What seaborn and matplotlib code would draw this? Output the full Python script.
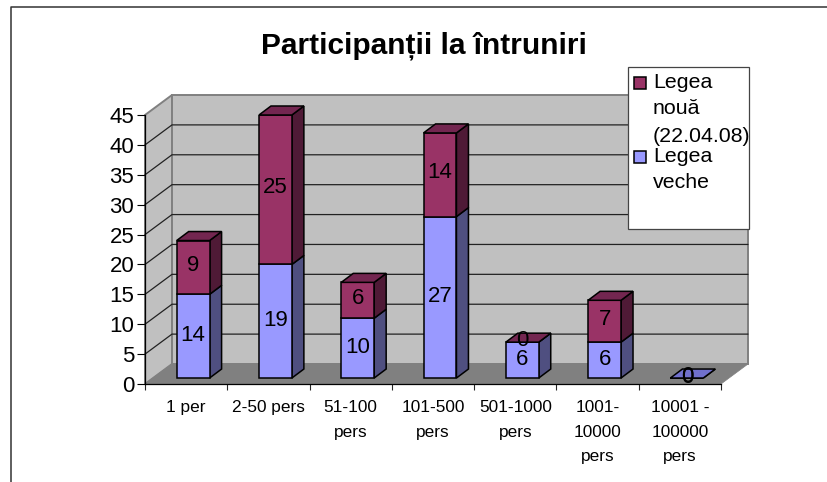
import pandas as pd
import matplotlib
matplotlib.use("Agg")
import matplotlib.pyplot as plt
from matplotlib.patches import Polygon, Rectangle
import seaborn as sns

categories = ["1 per", "2-50 pers", "51-100\npers", "101-500\npers", "501-1000\npers",
              "1001-\n10000\npers", "10001 -\n100000\npers"]
legea_veche = [14, 19, 10, 27, 6, 6, 0]
legea_noua = [9, 25, 6, 14, 0, 7, 0]
y_ticks = [0, 5, 10, 15, 20, 25, 30, 35, 40, 45]

sns.set_theme(style="white")
plt.rcParams['font.family'] = ['Liberation Sans', 'DejaVu Sans']

W, H = 827, 482
fig = plt.figure(figsize=(W / 100, H / 100), dpi=100, facecolor="white")

# front plane of the fake 3d box, in pixels
ax = fig.add_axes([145 / W, 1 - 384 / H, 576 / W, 269 / H])
ax.patch.set_visible(False)

idx = list(range(len(categories)))
df = pd.DataFrame({"pos": [i + 0.085 for i in idx], "veche": legea_veche, "noua": legea_noua})

floor = 1.0
bottoms = [floor + v for v in legea_veche]
sns.barplot(data=df, x="pos", y="veche", native_scale=True, width=0.4, color="#9999ff", saturation=1,
            edgecolor="black", linewidth=1.1, bottom=floor, zorder=3, ax=ax)
n_old = len(ax.patches)
sns.barplot(data=df, x="pos", y="noua", native_scale=True, width=0.4, color="#993366", saturation=1,
            edgecolor="black", linewidth=1.1, bottom=bottoms, zorder=3, ax=ax)

x0, x1, y1 = -0.5, 6.5, 45
ax.set_xlim(x0, x1)
ax.set_ylim(0, y1)

# depth of the walls and of the bars, in data units
dx, dy = 27 / 82.3, 20 / 5.98
bx, by = 12 / 82.3, 9 / 5.98

ax.add_patch(Polygon([(x0, 0), (x0 + dx, dy), (x0 + dx, y1 + dy), (x0, y1)], fc="#c0c0c0", ec="#808080",
                     lw=1.4, zorder=0.5, clip_on=False))
ax.add_patch(Polygon([(x0 + dx, dy), (x1 + dx, dy), (x1 + dx, y1 + dy), (x0 + dx, y1 + dy)], fc="#c0c0c0",
                     ec="#808080", lw=1.4, zorder=0.5, clip_on=False))
for v in y_ticks[1:-1]:
    ax.plot([x0, x0 + dx, x1 + dx], [v, v + dy, v + dy], color="#222222", lw=0.9, zorder=0.8, clip_on=False)
ax.add_patch(Polygon([(x0, 0), (x1, 0), (x1 + dx, dy), (x0 + dx, dy)], fc="#808080", ec="#808080",
                     lw=0.5, zorder=1, clip_on=False))


def draw_sides(p, side, top=None):
    x, w, y, h = p.get_x(), p.get_width(), p.get_y(), p.get_height()
    r = x + w
    ax.add_patch(Polygon([(r, y), (r + bx, y + by), (r + bx, y + h + by), (r, y + h)], fc=side, ec="black",
                         lw=1.1, zorder=2.9, clip_on=False))
    if top:
        ax.add_patch(Polygon([(x, y + h), (r, y + h), (r + bx, y + h + by), (x + bx, y + h + by)], fc=top,
                             ec="black", lw=1.1, zorder=3.1, clip_on=False))


for i in idx:
    old_p = ax.patches[i]
    new_p = ax.patches[n_old + i]
    has_stack = legea_veche[i] > 0
    draw_sides(old_p, "#4f4f80", None if has_stack else "#7070cc")
    if has_stack:
        draw_sides(new_p, "#4f1a36", "#732650")

for i in idx:
    xc = df["pos"][i]
    ax.text(xc, floor + legea_veche[i] / 2 + 0.1, str(legea_veche[i]), ha="center", va="center",
            fontsize=16, color="black", zorder=5)
    ax.text(xc, bottoms[i] + legea_noua[i] / 2 + 0.3, str(legea_noua[i]), ha="center", va="center",
            fontsize=16, color="black", zorder=5)

sns.despine(ax=ax, top=True, right=True)
for s in ["left", "bottom"]:
    ax.spines[s].set_color("black")
    ax.spines[s].set_linewidth(0.9)

ax.set_xlabel("")
ax.set_ylabel("")
ax.set_yticks(y_ticks)
ax.tick_params(axis="y", left=True, length=5.8, width=0.8, pad=2, labelsize=16, colors="black")
ax.set_xticks([i - 0.5 for i in idx] + [x1])
ax.set_xticklabels([])
ax.tick_params(axis="x", which="major", bottom=True, length=4, width=0.8)
ax.set_xticks(idx, minor=True)
ax.set_xticklabels(categories, minor=True, fontsize=12.4, linespacing=1.8, va="top")
ax.tick_params(axis="x", which="minor", bottom=False, length=0, pad=11.5, colors="black")

# overlay in pixels: frame, title, legend
ov = fig.add_axes([0, 0, 1, 1], zorder=10)
ov.set_xlim(0, W)
ov.set_ylim(H, 0)
ov.axis("off")
ov.plot([11, 11, W], [H, 7, 7], color="#333333", lw=1.1, clip_on=False)
ov.text(424, 46, "Participanții la întruniri", ha="center", va="center", fontsize=21.5, fontweight="bold",
        color="black")

ov.add_patch(Rectangle((628, 67), 121, 162, fc="white", ec="#444444", lw=0.9))
ov.add_patch(Rectangle((633.5, 77), 12, 12, fc="#993366", ec="black", lw=1.1))
ov.add_patch(Rectangle((633.5, 151), 12, 12, fc="#9999ff", ec="black", lw=1.1))
for label, y in [("Legea", 82.5), ("nouă", 109), ("(22.04.08)", 137), ("Legea", 156.5), ("veche", 183)]:
    ov.text(653, y, label, ha="left", va="center", fontsize=15.4, color="black")

fig.savefig("out.png", dpi=100)
